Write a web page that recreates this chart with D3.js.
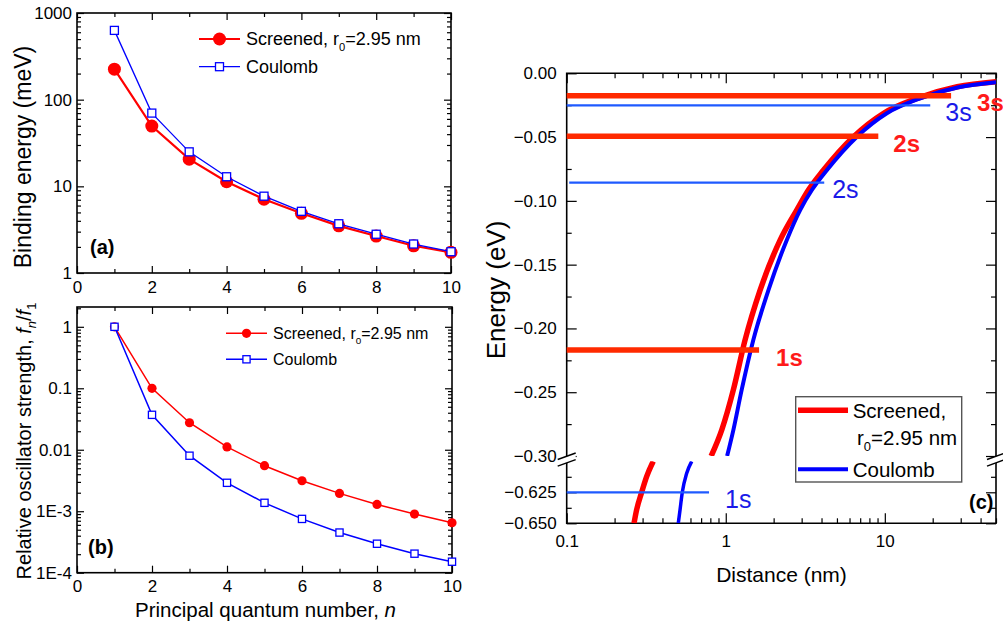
<!DOCTYPE html>
<html>
<head>
<meta charset="utf-8">
<script src="https://cdn.jsdelivr.net/npm/d3@7"></script>
<style>
  body { margin: 0; background: #fff; }
  svg { display: block; font-family: Arial, "Liberation Sans", Helvetica, sans-serif; }
</style>
</head>
<body>
<svg id="fig" width="1003" height="627"></svg>
<script>
// ---- panels (a) and (b): n = 1..10 ----
const nValues = [1, 2, 3, 4, 5, 6, 7, 8, 9, 10];
const bindScreened = [225, 49.6, 20.6, 11.3, 7.1, 4.88, 3.5, 2.67, 2.06, 1.73];
const bindCoulomb = [630, 70, 25, 12.9, 7.7, 5.15, 3.7, 2.8, 2.16, 1.76];
const oscScreened = [1, 0.1, 0.0275, 0.0111, 0.0055, 0.00313, 0.00195, 0.00129, 0.0009, 0.00065];
const oscCoulomb = [1, 0.037, 0.008, 0.0029, 0.00137, 0.00075, 0.00045, 0.000296, 0.000204, 0.000151];

// ---- panel (c): potentials (r in nm, E in eV) ----
const rScreenedUp = [0.81, 0.944, 1.117, 1.323, 1.644, 2.2, 2.8, 3.31, 4.12, 6.36, 9.83, 15.95, 28.5, 50];
const eScreenedUp = [-0.3, -0.2795, -0.248, -0.209, -0.17, -0.1306, -0.107, -0.0915, -0.0758, -0.0497, -0.0313, -0.0196, -0.0105, -0.0066];
const rCoulombUp = [1.02, 1.117, 1.26, 1.49, 1.855, 2.42, 2.94, 3.48, 4.33, 6.68, 10.3, 16.7, 29.1, 50];
const eCoulombUp = [-0.3, -0.2795, -0.248, -0.209, -0.17, -0.1306, -0.107, -0.0915, -0.0758, -0.0497, -0.0313, -0.0196, -0.011, -0.0071];
const rScreenedLow = [0.265, 0.275, 0.296, 0.318, 0.35];
const eScreenedLow = [-0.65, -0.6393, -0.625, -0.6124, -0.6];
const rCoulombLow = [0.503, 0.516, 0.533, 0.568, 0.611];
const eCoulombLow = [-0.65, -0.639, -0.625, -0.6097, -0.6];

// bound levels: energy and how far the bar runs (nm)
const levelNames = ["1s", "2s", "3s"];
const levelScreened = [-0.217, -0.0494, -0.0176];
const levelScreenedEnd = [1.62, 9.1, 26.1];
const levelCoulomb = [-0.625, -0.0857, -0.0251];
const levelCoulombEnd = [0.785, 4.16, 19.3];

const yTicksC = [0, -0.05, -0.1, -0.15, -0.2, -0.25, -0.3];
const yTicksCLow = [-0.625, -0.65];
const xTicksC = [0.1, 1, 10];

const svg = d3.select("#fig");
const RED = "#ff0000", BLUE = "#0000ff";

// inward ticks on all four sides, labels only left and bottom
function frame(xS, yS, o) {
  const [xl, xr] = xS.range();
  const [yb, yt] = yS.range();
  const style = g => {
    g.select(".domain").remove();
    g.selectAll("line").attr("stroke", "#000").attr("stroke-width", 1.2);
    g.attr("font-size", o.fs || 17).attr("font-family", null);
    g.selectAll("text").attr("fill", "#000");
  };
  const sides = [
    [d3.axisBottom, `translate(0,${o.bottomAt || yb})`, xS, o.xMajor, o.xMinor, o.xFmt, o.xPad],
    [d3.axisTop, `translate(0,${yt})`, xS, o.xMajor, o.xMinor, () => "", 0],
    [d3.axisLeft, `translate(${xl},0)`, yS, o.yMajor, o.yMinor, o.yFmt, o.yPad],
    [d3.axisRight, `translate(${xr},0)`, yS, o.yMajor, o.yMinor, () => "", 0]
  ];
  sides.forEach(([ax, tr, sc, maj, min, fmt, pad]) => {
    svg.append("g").attr("transform", tr)
      .call(ax(sc).tickValues(min).tickFormat("").tickSizeInner(-(o.minLen || 4)).tickSizeOuter(0))
      .call(style);
    svg.append("g").attr("transform", tr)
      .call(ax(sc).tickValues(maj).tickFormat(fmt).tickSizeInner(-(o.majLen || 7)).tickSizeOuter(0).tickPadding(pad))
      .call(style);
  });
  if (!o.noBox) {
    svg.append("rect").attr("x", xl).attr("y", yt).attr("width", xr - xl).attr("height", yb - yt)
      .attr("fill", "none").attr("stroke", "#000").attr("stroke-width", 1.6);
  }
}

function logMinor(lo, hi) {
  const out = [];
  for (let d = lo; d < hi; d *= 10) for (let k = 2; k <= 9; k++) out.push(d * k);
  return out;
}

function seriesPlot(xS, yS, ys, color, lw, marker, size) {
  const pts = nValues.map((n, i) => [xS(n), yS(ys[i])]);
  svg.append("path").attr("d", d3.line()(pts)).attr("fill", "none")
    .attr("stroke", color).attr("stroke-width", lw);
  pts.forEach(p => drawMarker(p[0], p[1], color, marker, size));
}

function drawMarker(x, y, color, marker, size) {
  if (marker === "circle") {
    svg.append("circle").attr("cx", x).attr("cy", y).attr("r", size).attr("fill", color);
  } else {
    svg.append("rect").attr("x", x - size).attr("y", y - size)
      .attr("width", 2 * size).attr("height", 2 * size)
      .attr("fill", "#fff").attr("stroke", color).attr("stroke-width", 1.3);
  }
}

function legendRow(x, y, color, lw, marker, size, fs, parts) {
  svg.append("line").attr("x1", x).attr("x2", x + 41).attr("y1", y).attr("y2", y)
    .attr("stroke", color).attr("stroke-width", lw);
  drawMarker(x + 20.5, y, color, marker, size);
  const t = svg.append("text").attr("x", x + 47).attr("y", y).attr("dy", "0.36em")
    .attr("font-size", fs);
  parts(t, fs);
}

function screenedLabel(t, fs) {
  t.append("tspan").text("Screened, r");
  t.append("tspan").attr("font-size", fs * 0.62).attr("dy", fs * 0.3).text("0");
  t.append("tspan").attr("dy", -fs * 0.3).text("=2.95 nm");
}

// ================= panel (a) =================
const xA = d3.scaleLinear().domain([0, 10]).range([77, 451]);
const yA = d3.scaleLog().domain([1, 1000]).range([273, 13]);
frame(xA, yA, {
  xMajor: [0, 2, 4, 6, 8, 10], xMinor: [1, 3, 5, 7, 9], xFmt: d3.format("d"), xPad: 8,
  yMajor: [1, 10, 100, 1000], yMinor: logMinor(1, 1000), yFmt: d3.format("d"), yPad: 5
});
seriesPlot(xA, yA, bindScreened, RED, 2.2, "circle", 6.5);
seriesPlot(xA, yA, bindCoulomb, BLUE, 1.3, "square", 4);
legendRow(199, 39, RED, 2.2, "circle", 6.5, 18, screenedLabel);
legendRow(199, 66.7, BLUE, 1.3, "square", 4, 18, t => t.text("Coulomb"));
svg.append("text").attr("x", 90).attr("y", 254).attr("font-size", 20).attr("font-weight", "bold").text("(a)");
svg.append("text").attr("transform", "translate(31,157) rotate(-90)")
  .attr("text-anchor", "middle").attr("font-size", 23).text("Binding energy (meV)");

// ================= panel (b) =================
const xB = d3.scaleLinear().domain([0, 10]).range([77, 452]);
const yB = d3.scaleLog().domain([1e-4, 2.1]).range([572.7, 307]);
const fmtB = d => ({ 1: "1", 0.1: "0.1", 0.01: "0.01", 0.001: "1E-3", 0.0001: "1E-4" })[d];
frame(xB, yB, {
  xMajor: [0, 2, 4, 6, 8, 10], xMinor: [1, 3, 5, 7, 9], xFmt: d3.format("d"), xPad: 7,
  yMajor: [1e-4, 1e-3, 1e-2, 0.1, 1], yMinor: logMinor(1e-4, 1).concat([2]), yFmt: fmtB, yPad: 5
});
seriesPlot(xB, yB, oscScreened, RED, 1.5, "circle", 4.6);
seriesPlot(xB, yB, oscCoulomb, BLUE, 1.5, "square", 3.6);
legendRow(226, 333.3, RED, 1.5, "circle", 4.6, 16, screenedLabel);
legendRow(226, 359.3, BLUE, 1.5, "square", 3.6, 16, t => t.text("Coulomb"));
svg.append("text").attr("x", 88).attr("y", 553.5).attr("font-size", 20).attr("font-weight", "bold").text("(b)");
{
  const t = svg.append("text").attr("transform", "translate(31,441) rotate(-90)")
    .attr("text-anchor", "middle").attr("font-size", 20);
  t.append("tspan").text("Relative oscillator strength, ");
  t.append("tspan").attr("font-style", "italic").text("f");
  t.append("tspan").attr("font-style", "italic").attr("font-size", 13).attr("dy", 5).text("n");
  t.append("tspan").attr("dy", -5).text("/");
  t.append("tspan").attr("font-style", "italic").text("f");
  t.append("tspan").attr("font-size", 13).attr("dy", 5).text("1");
}
{
  const t = svg.append("text").attr("x", 265.5).attr("y", 617).attr("text-anchor", "middle").attr("font-size", 20.5);
  t.append("tspan").text("Principal quantum number, ");
  t.append("tspan").attr("font-style", "italic").text("n");
}

// ================= panel (c) =================
const L = 566.7, R = 996, TOP = 73.3, BOT = 523.3;
const xC = d3.scaleLog().domain([0.1, 50]).range([L, R]);
const yUp = d3.scaleLinear().domain([-0.3, 0]).range([456, TOP]);
const yLow = d3.scaleLinear().domain([-0.65, -0.6]).range([BOT, 461.3]);
const fmtC = d3.format(".2f");
const fmtCLow = d3.format(".3f");

frame(xC, yUp, {
  xMajor: xTicksC, xMinor: logMinor(0.1, 10).concat([20, 30, 40, 50]), xFmt: d3.format("~g"), xPad: 12,
  yMajor: yTicksC, yMinor: d3.range(-0.275, 0, 0.05), yFmt: d => fmtC(d).replace("-0.00", "0.00"), yPad: 10,
  majLen: 10, minLen: 5, noBox: true, bottomAt: BOT
});
// lower segment of the broken y axis
[[d3.axisLeft, L, fmtCLow, 10], [d3.axisRight, R, () => "", 0]].forEach(([ax, x, fmt, pad]) => {
  svg.append("g").attr("transform", `translate(${x},0)`)
    .call(ax(yLow).tickValues([-0.6375, -0.6125]).tickFormat("").tickSizeInner(-5).tickSizeOuter(0))
    .call(g => { g.select(".domain").remove(); g.selectAll("line").attr("stroke-width", 1.2); });
  svg.append("g").attr("transform", `translate(${x},0)`)
    .call(ax(yLow).tickValues(yTicksCLow).tickFormat(fmt).tickSizeInner(-10).tickSizeOuter(0).tickPadding(pad))
    .call(g => {
      g.select(".domain").remove(); g.selectAll("line").attr("stroke-width", 1.2);
      g.attr("font-size", 17).attr("font-family", null);
    });
});

// spines
svg.append("path").attr("fill", "none").attr("stroke", "#000").attr("stroke-width", 1.6)
  .attr("d", `M${L},${BOT}H${R}V${TOP}H${L}Z`);

const clipUp = svg.append("clipPath").attr("id", "clipUp");
clipUp.append("rect").attr("x", L).attr("y", TOP).attr("width", R - L).attr("height", 456 - TOP);
const clipLow = svg.append("clipPath").attr("id", "clipLow");
clipLow.append("rect").attr("x", L).attr("y", 461.3).attr("width", R - L).attr("height", BOT - 461.3);

function curve(rs, es, yS, clip, color, lw) {
  svg.append("path").attr("clip-path", `url(#${clip})`)
    .attr("d", d3.line().x(d => xC(d[0])).y(d => yS(d[1])).curve(d3.curveMonotoneX)(rs.map((r, i) => [r, es[i]])))
    .attr("fill", "none").attr("stroke", color).attr("stroke-width", lw);
}
curve(rScreenedUp, eScreenedUp, yUp, "clipUp", RED, 5.5);
curve(rScreenedLow, eScreenedLow, yLow, "clipLow", RED, 5.5);
curve(rCoulombUp, eCoulombUp, yUp, "clipUp", BLUE, 4);
curve(rCoulombLow, eCoulombLow, yLow, "clipLow", BLUE, 3.5);

// level bars and their labels
const yOfE = e => (e >= -0.3 ? yUp(e) : yLow(e));
const redLabelDx = [17, 15, 26];
const blueLabelDx = [16, 8, 15];
levelNames.forEach((nm, i) => {
  const yb = yOfE(levelCoulomb[i]);
  svg.append("line").attr("x1", i === 1 ? L + 2.5 : L).attr("x2", xC(levelCoulombEnd[i]))
    .attr("y1", yb).attr("y2", yb).attr("stroke", "#1f5aff").attr("stroke-width", 2.2);
  svg.append("text").attr("x", xC(levelCoulombEnd[i]) + blueLabelDx[i]).attr("y", yb + 6.5)
    .attr("dy", "0.36em").attr("font-size", 25).attr("fill", "#1a1ae8").text(nm);
  const yr = yOfE(levelScreened[i]);
  svg.append("line").attr("x1", L).attr("x2", xC(levelScreenedEnd[i]))
    .attr("y1", yr).attr("y2", yr).attr("stroke", "#ff2a00").attr("stroke-width", 5.5);
  svg.append("text").attr("x", xC(levelScreenedEnd[i]) + redLabelDx[i]).attr("y", yr + 6.8)
    .attr("dy", "0.36em").attr("font-size", 24).attr("font-weight", "bold").attr("fill", "#ff1a1a").text(nm);
});

// axis break marks
[L, R].forEach(x => {
  svg.append("polygon")
    .attr("points", `${x - 9},${459.5} ${x + 9},${453} ${x + 9},${459.7} ${x - 9},${466}`)
    .attr("fill", "#fff");
  [0, 6.6].forEach(off => {
    svg.append("line").attr("x1", x - 9).attr("y1", 459.5 + off).attr("x2", x + 9).attr("y2", 453 + off)
      .attr("stroke", "#000").attr("stroke-width", 1.4);
  });
});

// legend (c)
svg.append("rect").attr("x", 795.7).attr("y", 396.7).attr("width", 166).attr("height", 85.3)
  .attr("fill", "#fff").attr("stroke", "#555").attr("stroke-width", 1.4);
svg.append("line").attr("x1", 798).attr("x2", 848).attr("y1", 410.3).attr("y2", 410.3)
  .attr("stroke", RED).attr("stroke-width", 5.5);
svg.append("line").attr("x1", 798).attr("x2", 848).attr("y1", 469.3).attr("y2", 469.3)
  .attr("stroke", BLUE).attr("stroke-width", 4);
svg.append("text").attr("x", 852.7).attr("y", 411).attr("dy", "0.36em").attr("font-size", 20.5).text("Screened,");
{
  const t = svg.append("text").attr("x", 857).attr("y", 437.3).attr("dy", "0.36em").attr("font-size", 20.5);
  t.append("tspan").text("r");
  t.append("tspan").attr("font-size", 13).attr("dy", 6).text("0");
  t.append("tspan").attr("dy", -6).text("=2.95 nm");
}
svg.append("text").attr("x", 852.7).attr("y", 469.3).attr("dy", "0.36em").attr("font-size", 20.5).text("Coulomb");
svg.append("text").attr("x", 969).attr("y", 509).attr("font-size", 20).attr("font-weight", "bold").text("(c)");

svg.append("text").attr("x", 781.5).attr("y", 582).attr("text-anchor", "middle").attr("font-size", 21).text("Distance (nm)");
svg.append("text").attr("transform", "translate(505,290) rotate(-90)")
  .attr("text-anchor", "middle").attr("font-size", 26).text("Energy (eV)");
</script>
</body>
</html>
